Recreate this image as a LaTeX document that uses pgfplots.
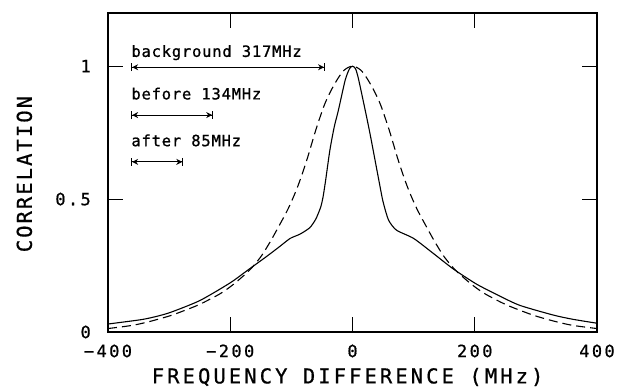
\documentclass[border=0pt]{standalone}
\usepackage{fontspec}
\setmainfont{DejaVu Sans Mono}
\newfontfamily\labfont[LetterSpace=15,FakeBold=0.7]{DejaVu Sans Mono}
\newfontfamily\ylabfont[LetterSpace=10,FakeBold=0.7]{DejaVu Sans Mono}
\newfontfamily\tickfont[LetterSpace=14,FakeBold=0.7]{DejaVu Sans Mono}
\newfontfamily\annfont[LetterSpace=5,FakeBold=1.0]{DejaVu Sans Mono}
\usepackage{pgfplots}
\pgfplotsset{compat=1.18}
\usetikzlibrary{arrows.meta}
\begin{document}
\begin{tikzpicture}
\begin{axis}[
  scale only axis,
  width=489pt, height=319pt,
  xmin=-400, xmax=400, ymin=0, ymax=1.2,
  xtick={-400,-200,0,200,400},
  xticklabels={−400,−200,0,200,400},
  ytick={0,0.5,1},
  yticklabels={0,0.5,1},
  tick align=inside,
  major tick length=15pt,
  tick style={line width=1pt, black},
  axis line style={line width=1.4pt},
  xticklabel style={font=\tickfont\fontsize{17}{18}\selectfont, anchor=center, inner sep=0pt, yshift=-19pt},
  yticklabel style={font=\tickfont\fontsize{17}{18}\selectfont, anchor=east, inner sep=0pt, xshift=-17pt},
  xlabel={FREQUENCY DIFFERENCE (MHz)},
  ylabel={CORRELATION},
  xlabel style={font=\labfont\fontsize{20.5}{24}\selectfont, at={(axis description cs:0.49,-0.141)}, anchor=center, inner sep=0pt},
  ylabel style={font=\ylabfont\fontsize{20.5}{24}\selectfont, at={(axis description cs:-0.171,0.495)}, anchor=center, inner sep=0pt},
  clip=false,
]
% measured correlation (solid)
\addplot[black, line width=1.1pt, smooth, tension=0.4] coordinates {
(-400,0.030) (-350,0.045) (-331,0.053) (-300,0.072) (-250,0.118)
(-200,0.185) (-170,0.235) (-140,0.285) (-120,0.320) (-102,0.352)
(-86,0.368) (-70,0.392) (-60,0.425) (-52,0.470) (-48,0.510)
(-44,0.570) (-37,0.684) (-30,0.770) (-23,0.835) (-12,0.947)
(-5,0.990) (0,1.000) (5,0.990) (10,0.950) (23,0.810)
(30,0.730) (37,0.645) (44,0.560) (50,0.490) (59,0.421)
(72,0.383) (100,0.352) (132,0.296) (165,0.237) (203,0.180)
(241,0.135) (274,0.100) (328,0.064) (360,0.048) (400,0.033)
};
% model (dashed)
\addplot[black, line width=1.1pt, dash pattern=on 9pt off 5pt, smooth, tension=0.5] coordinates {
(-400,0.013) (-360,0.025) (-331,0.040) (-300,0.060) (-277,0.079)
(-250,0.104) (-218,0.142) (-200,0.170) (-185,0.198) (-167,0.236)
(-150,0.283) (-135,0.338) (-120,0.400) (-105,0.465) (-90,0.545)
(-75,0.645) (-60,0.760) (-45,0.860) (-30,0.930) (-15,0.982)
(0,1.000) (15,0.982) (30,0.930) (45,0.860) (60,0.760)
(75,0.645) (90,0.545) (105,0.465) (120,0.400) (135,0.338)
(150,0.283) (167,0.236) (185,0.198) (200,0.170) (218,0.142)
(250,0.104) (277,0.079) (300,0.060) (331,0.040) (360,0.025)
(400,0.013)
};
% width markers
\tikzset{wm/.style={line width=0.9pt, {Bar[width=8pt]Stealth[length=6pt,width=6pt]}-{Stealth[length=6pt,width=6pt]Bar[width=8pt]}}}
\draw[wm] (axis cs:-362,0.996) -- (axis cs:-45,0.996);
\draw[wm] (axis cs:-362,0.816) -- (axis cs:-228,0.816);
\draw[wm] (axis cs:-362,0.640) -- (axis cs:-277,0.640);
\node[anchor=base west, inner sep=0pt, font=\annfont\fontsize{15.5}{17}\selectfont] at (axis cs:-362,1.035) {background 317MHz};
\node[anchor=base west, inner sep=0pt, font=\annfont\fontsize{15.5}{17}\selectfont] at (axis cs:-362,0.875) {before 134MHz};
\node[anchor=base west, inner sep=0pt, font=\annfont\fontsize{15.5}{17}\selectfont] at (axis cs:-362,0.699) {after 85MHz};
\end{axis}
\pgfresetboundingbox
\path (current axis.south west) ++(-108pt,-55pt) rectangle ++(623pt,387pt);
\end{tikzpicture}
\end{document}
